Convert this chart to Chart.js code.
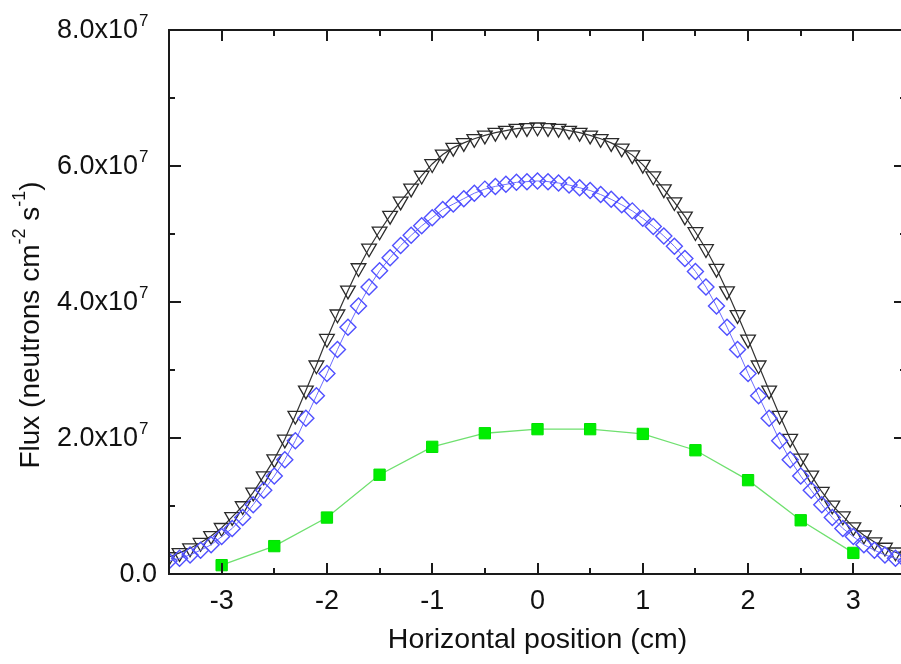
<!DOCTYPE html>
<html lang="en">
<head>
    <meta charset="UTF-8">
    <title>Horizontal flux profile</title>
    <script src="https://cdn.jsdelivr.net/npm/chart.js"></script>
    <style>
        html, body { margin: 0; padding: 0; background: #fff; overflow: hidden; }
        #wrap { width: 910px; height: 664px; }
    </style>
</head>
<body>
    <div id="wrap">
        <canvas id="fluxChart" width="910" height="664"></canvas>
    </div>

    <script>
        // positions (cm) for the two fine-step series
        var positions = [
            -3.5, -3.4, -3.3, -3.2, -3.1, -3.0, -2.9, -2.8, -2.7, -2.6, -2.5, -2.4,
            -2.3, -2.2, -2.1, -2.0, -1.9, -1.8, -1.7, -1.6, -1.5, -1.4, -1.3, -1.2,
            -1.1, -1.0, -0.9, -0.8, -0.7, -0.6, -0.5, -0.4, -0.3, -0.2, -0.1, 0.0,
            0.1, 0.2, 0.3, 0.4, 0.5, 0.6, 0.7, 0.8, 0.9, 1.0, 1.1, 1.2,
            1.3, 1.4, 1.5, 1.6, 1.7, 1.8, 1.9, 2.0, 2.1, 2.2, 2.3, 2.4,
            2.5, 2.6, 2.7, 2.8, 2.9, 3.0, 3.1, 3.2, 3.3, 3.4, 3.5
        ];

        // flux in units of 1e7 neutrons cm-2 s-1
        var triangleFlux = [
            0.25, 0.31, 0.38, 0.46, 0.56, 0.68, 0.84, 1.00, 1.20, 1.44, 1.69, 1.98,
            2.33, 2.70, 3.07, 3.46, 3.82, 4.17, 4.50, 4.79, 5.04, 5.27, 5.48, 5.67,
            5.86, 6.03, 6.17, 6.27, 6.34, 6.40, 6.45, 6.49, 6.52, 6.55, 6.56, 6.57,
            6.56, 6.55, 6.52, 6.49, 6.45, 6.40, 6.34, 6.26, 6.16, 6.02, 5.85, 5.66,
            5.47, 5.26, 5.03, 4.78, 4.49, 4.16, 3.81, 3.45, 3.07, 2.70, 2.33, 1.99,
            1.70, 1.45, 1.21, 1.01, 0.85, 0.69, 0.57, 0.47, 0.39, 0.32, 0.26
        ];

        var diamondFlux = [
            0.19, 0.23, 0.28, 0.35, 0.43, 0.55, 0.67, 0.83, 1.02, 1.23, 1.44, 1.68,
            1.96, 2.29, 2.62, 2.95, 3.30, 3.63, 3.94, 4.22, 4.46, 4.65, 4.83, 4.98,
            5.12, 5.24, 5.36, 5.44, 5.52, 5.60, 5.66, 5.70, 5.73, 5.76, 5.77, 5.78,
            5.77, 5.75, 5.72, 5.68, 5.64, 5.58, 5.51, 5.43, 5.34, 5.23, 5.11, 4.97,
            4.82, 4.64, 4.45, 4.22, 3.94, 3.63, 3.30, 2.95, 2.62, 2.29, 1.96, 1.68,
            1.44, 1.23, 1.02, 0.83, 0.67, 0.55, 0.43, 0.35, 0.28, 0.23, 0.19
        ];

        // coarse series
        var squarePositions = [-3.0, -2.5, -2.0, -1.5, -1.0, -0.5, 0.0, 0.5, 1.0, 1.5, 2.0, 2.5, 3.0];
        var squareFlux = [0.13, 0.41, 0.83, 1.46, 1.87, 2.07, 2.13, 2.13, 2.06, 1.82, 1.38, 0.79, 0.31];

        // axis ticks
        var xMajorTicks = [-3, -2, -1, 0, 1, 2, 3];
        var xMinorTicks = [-3.5, -2.5, -1.5, -0.5, 0.5, 1.5, 2.5, 3.5];
        var yMajorTicks = [0, 2, 4, 6, 8];
        var yMinorTicks = [1, 3, 5, 7];
        var yTickLabels = ['0.0', '2.0x10', '4.0x10', '6.0x10', '8.0x10'];
        var yTickExponents = ['', '7', '7', '7', '7'];

        // y title pieces: [text, superscript?]
        var yTitleParts = [['Flux (neutrons cm', false], ['-2', true], [' s', false], ['-1', true], [')', false]];

        var FONT = "'Liberation Sans', Arial, sans-serif";

        function toPoints(xs, ys) {
            return xs.map(function (x, i) { return { x: x, y: ys[i] }; });
        }

        // inward ticks on all four sides, the box, y labels with exponents, y title
        var frameTicks = {
            id: 'frameTicks',
            afterDraw: function (chart) {
                var ctx = chart.ctx, a = chart.chartArea;
                var xs = chart.scales.x, ys = chart.scales.y;
                ctx.save();
                ctx.strokeStyle = '#1a1a1a';
                ctx.lineWidth = 2;
                ctx.strokeRect(a.left, a.top, a.right - a.left, a.bottom - a.top);
                ctx.beginPath();
                function xTick(v, len) {
                    var p = Math.round(xs.getPixelForValue(v));
                    ctx.moveTo(p, a.bottom); ctx.lineTo(p, a.bottom - len);
                    ctx.moveTo(p, a.top); ctx.lineTo(p, a.top + len);
                }
                function yTick(v, len) {
                    var p = Math.round(ys.getPixelForValue(v));
                    ctx.moveTo(a.left, p); ctx.lineTo(a.left + len, p);
                    ctx.moveTo(a.right, p); ctx.lineTo(a.right - len, p);
                }
                xMajorTicks.forEach(function (v) { xTick(v, 11); });
                xMinorTicks.forEach(function (v) { xTick(v, 6); });
                yMajorTicks.forEach(function (v) { yTick(v, 12); });
                yMinorTicks.forEach(function (v) { yTick(v, 6); });
                ctx.stroke();

                // y tick labels
                ctx.fillStyle = '#111';
                ctx.textBaseline = 'middle';
                yMajorTicks.forEach(function (v, i) {
                    var p = ys.getPixelForValue(v);
                    ctx.textAlign = 'right';
                    ctx.font = '27px ' + FONT;
                    if (yTickExponents[i]) {
                        ctx.fillText(yTickLabels[i], a.left - 31, p + 1);
                        ctx.textAlign = 'left';
                        ctx.font = '17px ' + FONT;
                        ctx.fillText(yTickExponents[i], a.left - 30, p - 9);
                    } else {
                        ctx.fillText(yTickLabels[i], a.left - 12, p + 1);
                    }
                });

                // y title, rotated, with raised exponents
                ctx.save();
                ctx.translate(30, 325);
                ctx.rotate(-Math.PI / 2);
                ctx.textAlign = 'left';
                var big = '28px ' + FONT, small = '18px ' + FONT;
                var total = 0;
                yTitleParts.forEach(function (pt) {
                    ctx.font = pt[1] ? small : big;
                    total += ctx.measureText(pt[0]).width;
                });
                var cx = -total / 2;
                yTitleParts.forEach(function (pt) {
                    ctx.font = pt[1] ? small : big;
                    ctx.fillText(pt[0], cx, pt[1] ? -10 : 1);
                    cx += ctx.measureText(pt[0]).width;
                });
                ctx.restore();
                ctx.restore();
            }
        };

        var ctx = document.getElementById('fluxChart').getContext('2d');
        new Chart(ctx, {
            type: 'line',
            data: {
                datasets: [
                    {
                        label: 'diamonds',
                        data: toPoints(positions, diamondFlux),
                        borderColor: '#6b6bff',
                        borderWidth: 1,
                        pointStyle: 'rectRot',
                        pointRadius: 8,
                        pointBorderColor: '#5050ff',
                        pointBorderWidth: 1.4,
                        pointBackgroundColor: 'rgba(0,0,0,0)',
                        clip: 0
                    },
                    {
                        label: 'triangles',
                        data: toPoints(positions, triangleFlux),
                        borderColor: '#333',
                        borderWidth: 1.2,
                        pointStyle: 'triangle',
                        rotation: 180,
                        pointRadius: 8.5,
                        pointBorderColor: '#2a2a2a',
                        pointBorderWidth: 1.3,
                        pointBackgroundColor: 'rgba(0,0,0,0)',
                        clip: 0
                    },
                    {
                        label: 'squares',
                        data: toPoints(squarePositions, squareFlux),
                        borderColor: '#6fe06f',
                        borderWidth: 1.3,
                        pointStyle: 'rect',
                        pointRadius: 8,
                        pointBorderColor: '#00e000',
                        pointBorderWidth: 1,
                        pointBackgroundColor: '#00ee00',
                        clip: 0
                    }
                ]
            },
            options: {
                responsive: false,
                animation: false,
                events: [],
                layout: { autoPadding: false, padding: { top: 30, right: 4, left: 0, bottom: 0 } },
                plugins: { legend: { display: false }, tooltip: { enabled: false } },
                scales: {
                    x: {
                        type: 'linear',
                        min: -3.5,
                        max: 3.5,
                        grid: { display: false },
                        border: { display: false },
                        afterFit: function (s) { s.height = 90; },
                        afterBuildTicks: function (s) {
                            s.ticks = xMajorTicks.map(function (v) { return { value: v }; });
                        },
                        ticks: {
                            autoSkip: false,
                            maxRotation: 0,
                            padding: 3,
                            color: '#111',
                            font: { family: FONT, size: 27 },
                            callback: function (v) { return String(v); }
                        },
                        title: {
                            display: true,
                            text: 'Horizontal position (cm)',
                            color: '#111',
                            font: { family: FONT, size: 28.5 },
                            padding: { top: 0, bottom: 7 }
                        }
                    },
                    y: {
                        min: 0,
                        max: 8,
                        grid: { display: false },
                        border: { display: false },
                        afterFit: function (s) { s.width = 169; },
                        ticks: { display: false },
                        title: { display: false }
                    }
                }
            },
            plugins: [frameTicks]
        });
    </script>
</body>
</html>
